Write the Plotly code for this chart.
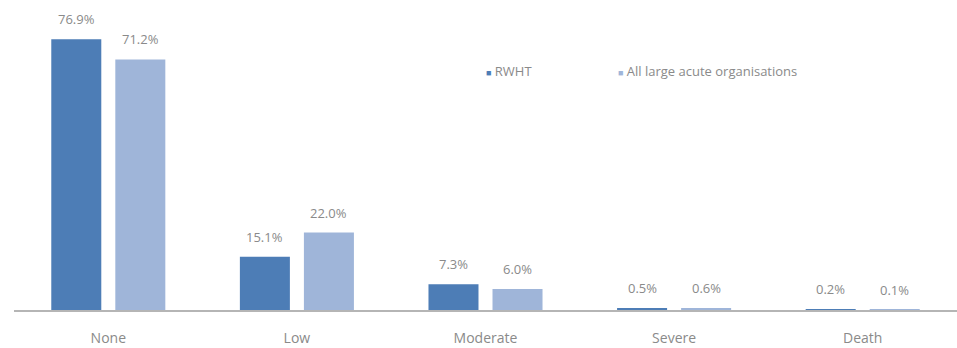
import plotly.graph_objects as go

# Harm levels and share of incidents (%) by organisation group
categories = ["None", "Low", "Moderate", "Severe", "Death"]
series_names = ["RWHT", "All large acute organisations"]
rwht = [76.9, 15.1, 7.3, 0.5, 0.2]
all_large = [71.2, 22.0, 6.0, 0.6, 0.1]

colors = ["#4d7db6", "#9fb5d9"]
text_color = "#8a8a8a"
font_family = "Open Sans"

W, H = 957, 348
margin = dict(l=14, r=0, t=10, b=38)
plot_w = W - margin["l"] - margin["r"]
cat_w = plot_w / len(categories)
bargap = 0.321
slot = cat_w * (1 - bargap) / 2  # width reserved for each bar in a group

fig = go.Figure()
for name, vals, col in zip(series_names, [rwht, all_large], colors):
    fig.add_trace(go.Bar(
        x=categories, y=vals, name=name,
        marker=dict(color=col, line=dict(width=0)),
        showlegend=False, hoverinfo="skip",
    ))

# Value labels above each bar
for i, vals in enumerate([rwht, all_large]):
    shift = (i - 0.5) * slot
    for c, v in zip(categories, vals):
        fig.add_annotation(
            x=c, y=v, text=f"{v:.1f}%", showarrow=False,
            xref="x", yref="y", xanchor="center", yanchor="bottom",
            xshift=shift, yshift=9,
            font=dict(family=font_family, size=13, color=text_color),
        )

# Compact legend with small square keys
legend_x = [(484 - margin["l"]) / plot_w, (616 - margin["l"]) / plot_w]
for name, col, lx in zip(series_names, colors, legend_x):
    fig.add_annotation(
        x=lx, y=0.797, xref="paper", yref="paper",
        xanchor="left", yanchor="middle", showarrow=False,
        text=f"<span style='color:{col};font-size:9px'>■</span> {name}",
        font=dict(family=font_family, size=13, color=text_color),
    )

fig.update_layout(
    width=W, height=H, margin=margin,
    paper_bgcolor="white", plot_bgcolor="white",
    barmode="group", bargap=bargap, bargroupgap=0.219,
    font=dict(family=font_family, size=13, color=text_color),
    xaxis=dict(
        showline=True, linecolor="#b5b5b5", linewidth=1.5,
        showgrid=False, ticks="", ticklabelstandoff=14,
        tickfont=dict(size=14, color=text_color),
        fixedrange=True,
    ),
    yaxis=dict(
        range=[0, 300 / 3.52], visible=False, showgrid=False,
        zeroline=False, fixedrange=True,
    ),
)

fig.write_html("out.html")
